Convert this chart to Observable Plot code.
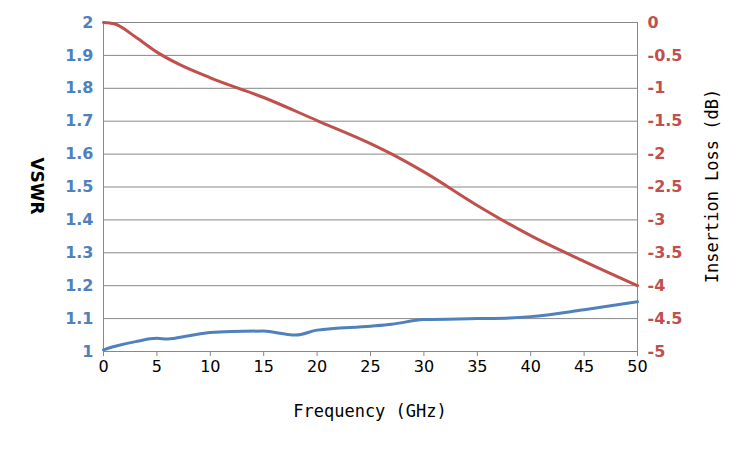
<!DOCTYPE html>
<html><head><meta charset="utf-8">
<script src="https://cdn.jsdelivr.net/npm/d3@7"></script>
<script src="https://cdn.jsdelivr.net/npm/@observablehq/plot@0.6"></script>
<style>
body{margin:0;background:#fff;}
#wrap{position:relative;width:750px;height:450px;}
.lab{position:absolute;white-space:nowrap;}
</style></head><body>
<div id="wrap"></div>
<script>
const vswrFreq = [0,1,3,5,6,8,10,12,15,17,18,20,25,27,30,35,38,40,45,50];
const vswrVal  = [1.005,1.015,1.03,1.04,1.038,1.048,1.058,1.061,1.062,1.053,1.05,1.065,1.077,1.083,1.097,1.1,1.102,1.106,1.127,1.151];
const lossFreq = [0,1,3,5,7,10,15,20,25,27,30,35,40,45,50];
const lossVal  = [0,-0.02,-0.22,-0.45,-0.63,-0.84,-1.14,-1.49,-1.84,-2.0,-2.27,-2.78,-3.24,-3.63,-4.0];
const vswrTicks = d3.range(0,11).map(i=>+(1+i*0.1).toFixed(1));
const lossTicks = ["0","-0.5","-1","-1.5","-2","-2.5","-3","-3.5","-4","-4.5","-5"];

const vswr = vswrFreq.map((f,i)=>({f, v:vswrVal[i]}));
const loss = lossFreq.map((f,i)=>({f, v:2+lossVal[i]/5}));

const chart = Plot.plot({
  width:750, height:450,
  marginLeft:103, marginRight:113, marginTop:22, marginBottom:99,
  style:{fontSize:"16px", fontFamily:"Verdana, DejaVu Sans, sans-serif"},
  x:{domain:[0,50]},
  y:{domain:[1,2]},
  marks:[
    Plot.gridY(vswrTicks,{stroke:"#888", strokeOpacity:1, strokeWidth:1}),
    Plot.ruleX([0,50],{stroke:"#888"}),
    Plot.ruleY([1],{stroke:"#888"}),
    Plot.axisX(d3.range(0,51,5),{tickSize:5, tickPadding:4, fill:"#000", stroke:"#888", label:null, fontSize:16, fontFamily:"DejaVu Sans, sans-serif"}),
    Plot.axisY(vswrTicks,{anchor:"left", tickSize:0, tickPadding:10, fill:"#4f81bd", fontWeight:"bold", label:null, tickFormat:d=>String(d), fontSize:16}),
    Plot.axisY(vswrTicks,{anchor:"right", tickSize:0, tickPadding:10, fill:"#c0504d", fontWeight:"bold", label:null, tickFormat:(d,i)=>lossTicks[10-Math.round((d-1)*10)], fontSize:16}),
    Plot.line(vswr,{x:"f", y:"v", stroke:"#4f81bd", strokeWidth:3, curve:"monotone-x"}),
    Plot.line(loss,{x:"f", y:"v", stroke:"#c0504d", strokeWidth:3, curve:"monotone-x"})
  ]
});
const wrap = document.getElementById("wrap");
wrap.appendChild(chart);
function lab(text, x, y, rot, css){
  const d=document.createElement("div"); d.className="lab"; d.textContent=text;
  d.style.cssText += `left:${x}px;top:${y}px;transform:translate(-50%,-50%) rotate(${rot}deg);`+css;
  wrap.appendChild(d);
}
lab("Frequency (GHz)",370,411,0,"font-family:'DejaVu Sans Mono',monospace;font-size:17px;");
lab("VSWR",37,186,90,"font-family:Verdana,'DejaVu Sans',sans-serif;font-size:17px;font-weight:bold;");
lab("Insertion Loss (dB)",712,186,-90,"font-family:'DejaVu Sans Mono',monospace;font-size:17px;");
</script>
</body></html>
